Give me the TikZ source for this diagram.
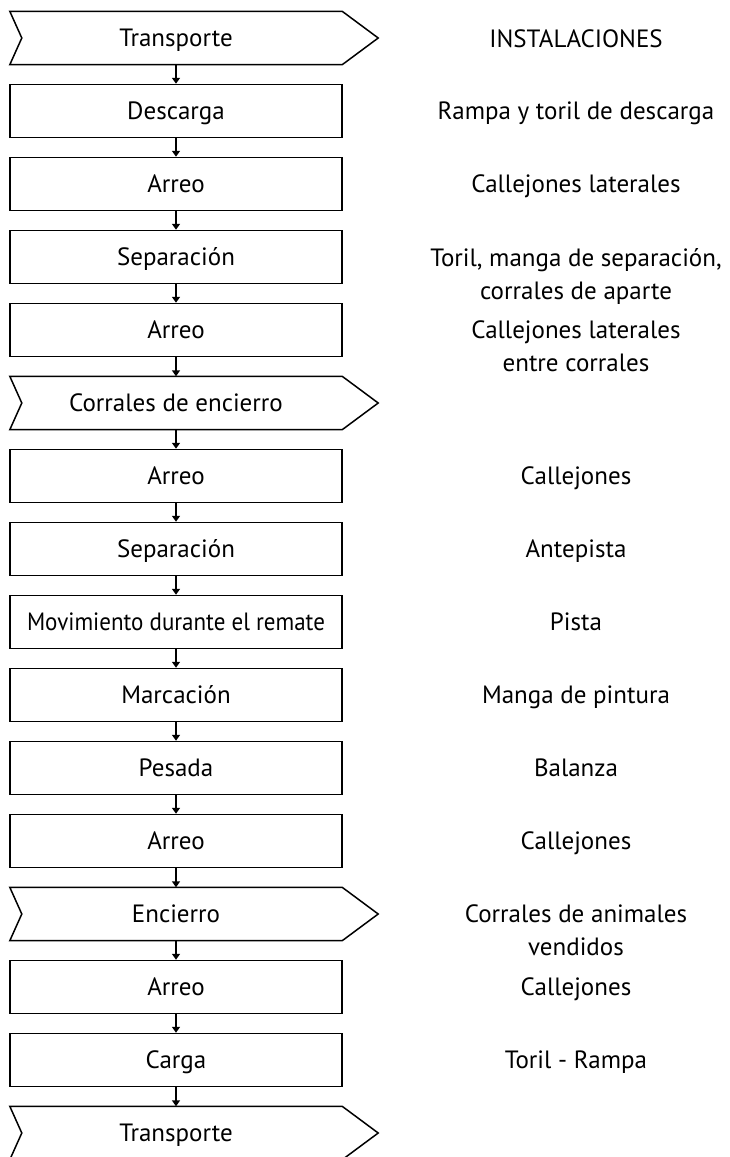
\documentclass[tikz,border=0pt]{standalone}
\usepackage{fontspec}
\usepackage{graphicx}
\setmainfont{PT Sans}
\usetikzlibrary{arrows.meta,calc}
\newcommand\lblfont{\fontsize{25}{33}\selectfont}
\begin{document}
\begin{tikzpicture}[x=1pt,y=-1pt,
  stagebox/.style={draw, line width=1.5pt, minimum width=332pt, minimum height=53pt, inner sep=0pt, font=\lblfont, text height=17.5pt, text depth=0pt},
  chevbox/.style={minimum width=332pt, minimum height=53pt, inner sep=0pt, font=\lblfont, text height=17.5pt, text depth=0pt},
  chevline/.style={line width=1.5pt, line join=miter},
  inst/.style={align=center, font=\lblfont, inner sep=0pt, anchor=base},
  flow/.style={line width=1.5pt, -{Triangle[length=6pt,width=8pt]}}]
\fill[white] (0,0) rectangle (730,1157);
\useasboundingbox (0,0) rectangle (730,1157);
% left column
\node[chevbox]  (s0)  at (176,38)   {Transporte};
\node[stagebox] (s1)  at (176,111)  {Descarga};
\node[stagebox] (s2)  at (176,184)  {Arreo};
\node[stagebox] (s3)  at (176,257)  {Separación};
\node[stagebox] (s4)  at (176,330)  {Arreo};
\node[chevbox]  (s5)  at (176,403)  {Corrales de encierro};
\node[stagebox] (s6)  at (176,476)  {Arreo};
\node[stagebox] (s7)  at (176,549)  {Separación};
\node[stagebox] (s8)  at (176,622)  {\scalebox{0.92}[1]{Movimiento durante el remate}};
\node[stagebox] (s9)  at (176,695)  {Marcación};
\node[stagebox] (s10) at (176,768)  {Pesada};
\node[stagebox] (s11) at (176,841)  {Arreo};
\node[chevbox]  (s12) at (176,914)  {Encierro};
\node[stagebox] (s13) at (176,987)  {Arreo};
\node[stagebox] (s14) at (176,1060) {Carga};
\node[chevbox]  (s15) at (176,1133) {Transporte};
\foreach \n in {s0,s5,s12,s15}
  \draw[chevline] (\n.north west) -- (\n.north east) -- ($(\n.east)+(36,0)$)
     -- (\n.south east) -- (\n.south west) -- ($(\n.west)+(12,0)$) -- cycle;
\foreach \a/\b in {s0/s1,s1/s2,s2/s3,s3/s4,s4/s5,s5/s6,s6/s7,s7/s8,s8/s9,s9/s10,s10/s11,s11/s12,s12/s13,s13/s14,s14/s15}
  \draw[flow] (\a.south) -- (\b.north);
% right column (baselines)
\node[inst] (r0)  at (576,47.5)   {INSTALACIONES};
\node[inst] (r1)  at (576,119.75) {Rampa y toril de descarga};
\node[inst] (r2)  at (576,192.75) {Callejones laterales};
\node[inst] (r3)  at (576,299.75) {Toril, manga de separación,\\corrales de aparte};
\node[inst] (r4)  at (576,371.75) {Callejones laterales\\entre corrales};
\node[inst] (r6)  at (576,484.75) {Callejones};
\node[inst] (r7)  at (576,557.75) {Antepista};
\node[inst] (r8)  at (576,630.75) {Pista};
\node[inst] (r9)  at (576,703.75) {Manga de pintura};
\node[inst] (r10) at (576,776.75) {Balanza};
\node[inst] (r11) at (576,849.75) {Callejones};
\node[inst] (r12) at (576,955.75) {Corrales de animales\\vendidos};
\node[inst] (r13) at (576,995.75) {Callejones};
\node[inst] (r14) at (576,1068.75){Toril - Rampa};
\end{tikzpicture}
\end{document}
